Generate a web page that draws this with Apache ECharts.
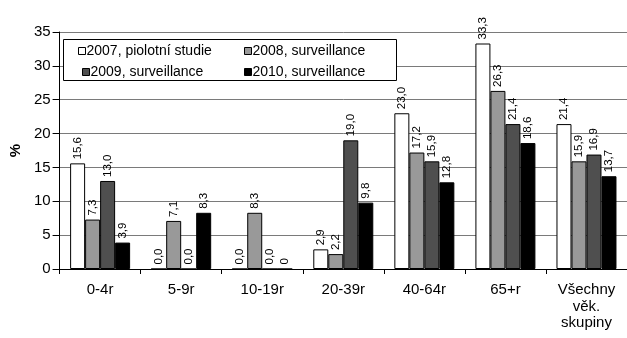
<!DOCTYPE html>
<html>
<head>
<meta charset="utf-8">
<script src="https://cdn.jsdelivr.net/npm/echarts@6/dist/echarts.min.js"></script>
<style>
html,body{margin:0;padding:0;background:#fff;}
#c{width:627px;height:338px;}
</style>
</head>
<body>
<div id="c"></div>
<script>
var categories = ['0-4r', '5-9r', '10-19r', '20-39r', '40-64r', '65+r', 'Všechny\nvěk.\nskupiny'];
var seriesNames = ['2007, piolotní studie', '2008, surveillance', '2009, surveillance', '2010, surveillance'];
var values2007 = [15.6, 0.0, 0.0, 2.9, 23.0, 33.3, 21.4];
var values2008 = [7.3, 7.1, 8.3, 2.2, 17.2, 26.3, 15.9];
var values2009 = [13.0, 0.0, 0.0, 19.0, 15.9, 21.4, 16.9];
var values2010 = [3.9, 8.3, 0, 9.8, 12.8, 18.6, 13.7];
var labelDecimals2010 = [1, 1, 0, 1, 1, 1, 1];
var yTicks = [0, 5, 10, 15, 20, 25, 30, 35];

var colors = ['#ffffff', '#999999', '#4f4f4f', '#000000'];
var allValues = [values2007, values2008, values2009, values2010];
var FONT = 'Liberation Sans, Arial, sans-serif';

function fmt(v, d) { return v.toFixed(d).replace('.', ','); }

var series = allValues.map(function (vals, i) {
  return {
    name: seriesNames[i],
    type: 'bar',
    data: vals,
    barWidth: 15,
    barGap: '0%',
    itemStyle: { color: colors[i], borderColor: '#000', borderWidth: 1 },
    label: {
      show: true,
      position: 'top',
      rotate: 90,
      align: 'left',
      verticalAlign: 'middle',
      distance: 4,
      fontSize: 11.5,
      fontFamily: FONT,
      color: '#000',
      formatter: function (p) {
        var d = (i === 3) ? labelDecimals2010[p.dataIndex] : 1;
        return fmt(p.value, d);
      }
    }
  };
});

function mkLegend(name, left, top) {
  return {
    data: [name],
    left: left, top: top,
    padding: 0,
    icon: 'rect',
    itemWidth: 7, itemHeight: 7,
    itemStyle: { borderColor: '#000', borderWidth: 1 },
    textStyle: { fontSize: 14, fontFamily: FONT, color: '#000', lineHeight: 14, padding: [0, 0, 0, -4] },
    selectedMode: false,
    z: 10
  };
}

var chart = echarts.init(document.getElementById('c'), null, { renderer: 'canvas' });
chart.setOption({
  animation: false,
  backgroundColor: '#fff',
  grid: { left: 58, right: -7, top: 32, bottom: 69, containLabel: false },
  legend: [
    mkLegend(seriesNames[0], 78, 44),
    mkLegend(seriesNames[1], 244, 44),
    mkLegend(seriesNames[2], 82, 65),
    mkLegend(seriesNames[3], 244, 65)
  ],
  graphic: [{
    type: 'rect',
    shape: { x: 63.5, y: 39.5, width: 333, height: 41 },
    style: { fill: '#fff', stroke: '#000', lineWidth: 1 },
    z: 5
  }],
  xAxis: {
    type: 'category',
    data: categories,
    axisLine: { lineStyle: { color: '#000', width: 1 } },
    axisTick: { show: true, length: 5, lineStyle: { color: '#000' } },
    axisLabel: { color: '#000', fontSize: 15, fontFamily: FONT, margin: 13, lineHeight: 16.5, interval: 0 }
  },
  yAxis: {
    type: 'value',
    min: 0, max: 35, interval: 5,
    name: '%',
    nameLocation: 'middle',
    nameRotate: 90,
    nameGap: 29,
    nameTextStyle: { fontSize: 15, fontWeight: 'bold', fontFamily: FONT, color: '#000' },
    axisLine: { show: true, lineStyle: { color: '#000', width: 1 } },
    axisTick: { show: true, length: 7, lineStyle: { color: '#000' } },
    axisLabel: {
      color: '#000', fontSize: 15, fontFamily: FONT, margin: 9,
      formatter: function (v) { return yTicks.indexOf(v) >= 0 ? String(v) : ''; }
    },
    splitLine: { show: true, lineStyle: { color: '#7a7a7a', width: 1 } }
  },
  series: series
});
</script>
</body>
</html>
